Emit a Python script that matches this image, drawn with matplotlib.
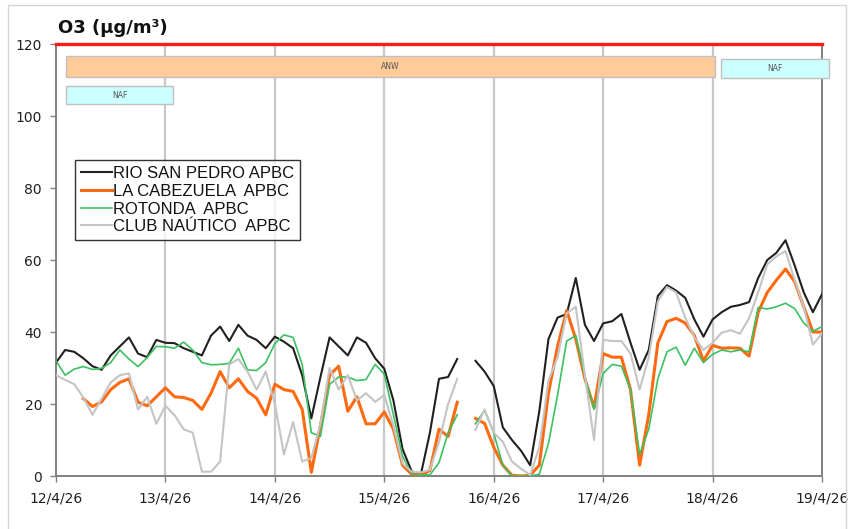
import numpy as np
import matplotlib
matplotlib.use("Agg")
import matplotlib.pyplot as plt
from matplotlib.patches import Rectangle

nan = np.nan

# ---------------- data (2-hourly values, µg/m³) ----------------
hours = np.arange(0, 170, 2)  # hours since 12/4/26 00:00
day_ticks = [0, 24, 48, 72, 96, 120, 144, 168]
day_labels = ["12/4/26", "13/4/26", "14/4/26", "15/4/26", "16/4/26", "17/4/26", "18/4/26", "19/4/26"]

series_names = ["RIO SAN PEDRO APBC", "LA CABEZUELA  APBC", "ROTONDA  APBC", "CLUB NAÚTICO  APBC"]

rio_san_pedro = [
    31.5, 35, 34.5, 32.7, 30.5, 29.5, 33.5, 36, 38.5, 34,
    33, 37.8, 37, 36.9, 35.5, 34.5, 33.5, 39, 41.5, 37.5,
    42, 39, 37.8, 35.5, 38.7, 37.3, 35.5, 28, 16, 27.5,
    38.5, 36, 33.5, 38.5, 37, 32.7, 29.8, 21, 7.5, 1.3,
    0.3, 12, 27, 27.5, 32.5, nan, 32, 29, 25, 13.5,
    10, 7, 3, 18, 38, 44, 45, 55, 42, 37.5,
    42.4, 43, 45, 37, 29.5, 35, 50, 53, 51.5, 49.5,
    43.5, 38.7, 43.5, 45.5, 47, 47.5, 48.3, 55, 60, 62,
    65.5, 58.5, 51, 45.5, 50.5]

la_cabezuela = [
    nan, nan, nan, 21.5, 19.3, 20.6, 24, 26, 27, 20.5,
    19.5, 22, 24.5, 22, 21.8, 21, 18.5, 23, 29, 24.5,
    27, 23.5, 21.6, 17, 25.5, 24, 23.5, 18.5, 1, 14,
    28, 30.5, 18, 22, 14.5, 14.5, 17.8, 13, 3, 0.5,
    0.3, 1.5, 13, 11, 20.5, nan, 16, 14.6, 8, 3,
    0.2, 0, 0.2, 3, 23, 36, 46, 38, 27, 19,
    34, 33, 33, 24, 3, 17, 37, 42.9, 43.8, 42.5,
    39, 32, 36.3, 35.5, 35.6, 35.5, 33.3, 45.5, 51, 54.4,
    57.5, 54, 47, 40, 40]

rotonda = [
    32, 28, 29.7, 30.4, 29.6, 29.9, 31.5, 35, 32.5, 30.4,
    32.9, 36, 35.9, 35.5, 37.2, 35, 31.5, 30.9, 31, 31.3,
    35.5, 29.5, 29.3, 31.5, 36.8, 39.2, 38.5, 31, 12, 11,
    25.5, 27.5, 27.5, 26.5, 26.8, 31, 28.3, 17, 5.5, 0.6,
    0.3, 0.3, 3.7, 12, 17, nan, 14.5, 18.2, 12, 3,
    0, 0, 0, 0.5, 9, 22.5, 37.5, 39, 27.5, 18.5,
    28.5, 31, 30.5, 24, 6, 13, 27, 34.5, 35.8, 30.8,
    35.5, 31.5, 33.8, 35, 34.5, 35, 34.5, 46.8, 46.4, 47,
    48, 46.5, 42.5, 40.2, 41.5]

club_nautico = [
    28, 26.7, 25.5, 21.8, 17, 21.5, 26, 28, 28.5, 18.5,
    22, 14.5, 19.5, 16.9, 13, 12, 1.2, 1.2, 4, 31,
    32.5, 29, 24, 29, 20, 6, 15, 4, 5, 14.5,
    30, 24, 28, 21, 23, 20.6, 22.5, 14, 3.5, 1.2,
    1, 1.7, 9.5, 20, 27, nan, 12.8, 18.5, 12, 9.5,
    4, 2, 0.3, 8, 26.5, 33, 45.2, 47, 28, 10,
    37.8, 37.5, 37.5, 34, 24, 33, 48.5, 52.5, 51, 44,
    38.5, 35, 37, 39.8, 40.5, 39.5, 43.8, 51, 58.8, 61,
    62.5, 54.5, 47, 36.5, 39.6]

limit_value = 120

# episodes: label, start hour, end hour, lower value, upper value
episode_labels = ["ANW", "NAF", "NAF"]
episode_start = [2.2, 2.2, 145.8]
episode_end = [144.5, 25.7, 169.5]
episode_low = [110.8, 103.3, 110.5]
episode_high = [116.7, 108.3, 115.8]
episode_colors = ["#FFCC99", "#CCFFFF", "#CCFFFF"]

# ---------------- figure ----------------
W, H = 853, 529
fig = plt.figure(figsize=(W / 100, H / 100), dpi=100)
fig.patch.set_facecolor("white")

# light outer frame
fig.patches.append(Rectangle((8 / W, -0.05), (846 - 8) / W, 1.05 - 5 / H,
                             transform=fig.transFigure, fill=False,
                             ec="#D4D4D4", lw=1.0))

ax = fig.add_axes([56 / W, 1 - 476 / H, 766 / W, 432 / H])
ax.set_xlim(0, 168)
ax.set_ylim(0, 120)

# vertical grid lines
for d in day_ticks[1:-1]:
    ax.axvline(d, color="#C8C8C8", lw=1.6, zorder=0)

colors = ["#202020", "#FF6A10", "#3CC060", "#C4C4C4"]
widths = [1.5, 2.2, 1.2, 1.5]
data = [rio_san_pedro, la_cabezuela, rotonda, club_nautico]
for name, vals, c, w in zip(series_names, data, colors, widths):
    ax.plot(hours, vals, color=c, lw=w, label=name, zorder=3)

# limit line
ax.axhline(limit_value, color="#FF1A1A", lw=2.4, clip_on=False, zorder=5)

# episode boxes
for lab, s, e, lo, hi, fc in zip(episode_labels, episode_start, episode_end,
                                 episode_low, episode_high, episode_colors):
    ax.add_patch(Rectangle((s, lo), e - s, hi - lo, fc=fc, ec="#C0C0C0",
                           lw=1.0, clip_on=False, zorder=4))
    ax.text((s + e) / 2, (lo + hi) / 2, lab, ha="center", va="center",
            fontsize=5.5, color="#555555", zorder=6, clip_on=False,
            family="DejaVu Sans")

# spines
ax.spines["top"].set_visible(False)
for side in ["left", "bottom", "right"]:
    ax.spines[side].set_color("#808080")
    ax.spines[side].set_linewidth(1.4)

ax.set_yticks(range(0, 121, 20))
ax.set_xticks(day_ticks)
ax.set_xticklabels(day_labels)
ax.tick_params(axis="y", length=4, width=1, color="#808080", pad=6,
               labelsize=10, labelcolor="#202020")
ax.tick_params(axis="x", length=4, width=1, color="#808080", pad=7,
               labelsize=10, labelcolor="#202020")

# title
fig.text(58 / W, 1 - 28 / H, "O3 (µg/m³)", fontsize=13, fontweight="bold",
         ha="left", va="center", color="#111111", family="DejaVu Sans")

# legend
leg = ax.legend(loc="upper left", bbox_to_anchor=((75 - 56) / 766, (476 - 160) / 432),
                borderaxespad=0, frameon=True, fancybox=False, shadow=False,
                handlelength=1.9, handletextpad=0.05, labelspacing=0.17,
                borderpad=0.35, prop={"family": "Liberation Sans", "size": 12})
leg.get_frame().set_edgecolor("#000000")
leg.get_frame().set_linewidth(1.0)
for txt in leg.get_texts():
    txt.set_color("#111111")

fig.savefig("out.png", dpi=100)
